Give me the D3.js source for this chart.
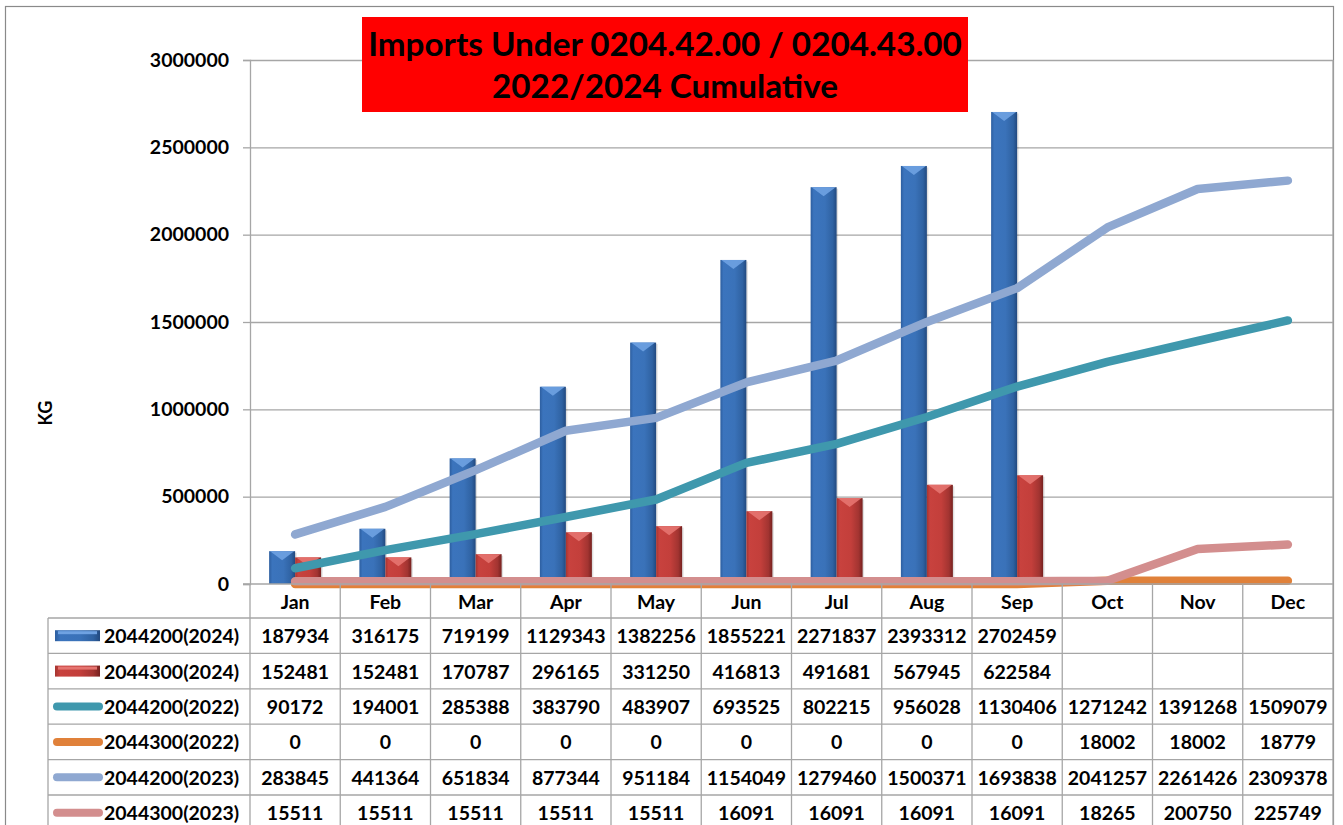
<!DOCTYPE html>
<html><head><meta charset="utf-8">
<script src="https://cdn.jsdelivr.net/npm/d3@7/dist/d3.min.js"></script>
<style>
body{margin:0;background:#fff}
svg{display:block}
text{font-family:Lato,"Open Sans",sans-serif;font-weight:700;fill:#000}
</style></head><body>
<script>
// ---------- data ----------
const months = ["Jan","Feb","Mar","Apr","May","Jun","Jul","Aug","Sep","Oct","Nov","Dec"];
const seriesNames = ["2044200(2024)","2044300(2024)","2044200(2022)","2044300(2022)","2044200(2023)","2044300(2023)"];
const s2044200_2024 = [187934,316175,719199,1129343,1382256,1855221,2271837,2393312,2702459,null,null,null];
const s2044300_2024 = [152481,152481,170787,296165,331250,416813,491681,567945,622584,null,null,null];
const s2044200_2022 = [90172,194001,285388,383790,483907,693525,802215,956028,1130406,1271242,1391268,1509079];
const s2044300_2022 = [0,0,0,0,0,0,0,0,0,18002,18002,18779];
const s2044200_2023 = [283845,441364,651834,877344,951184,1154049,1279460,1500371,1693838,2041257,2261426,2309378];
const s2044300_2023 = [15511,15511,15511,15511,15511,16091,16091,16091,16091,18265,200750,225749];
const yTicks = [0,500000,1000000,1500000,2000000,2500000,3000000];
const titleLines = ["Imports Under 0204.42.00 / 0204.43.00","2022/2024 Cumulative"];
const yAxisTitle = "KG";

const barSeries = [
  {name:seriesNames[0], values:s2044200_2024, grad:"gBlue", bevel:"#6fa2e2"},
  {name:seriesNames[1], values:s2044300_2024, grad:"gRed", bevel:"#e57470"}
];
const lineSeries = [
  {name:seriesNames[2], values:s2044200_2022, color:"#3f98ad"},
  {name:seriesNames[3], values:s2044300_2022, color:"#e0813a"},
  {name:seriesNames[4], values:s2044200_2023, color:"#8fa8d1"},
  {name:seriesNames[5], values:s2044300_2023, color:"#d38e8e"}
];
const tableRows = [
  {name:seriesNames[0], values:s2044200_2024, type:"bar", grad:"gBlue"},
  {name:seriesNames[1], values:s2044300_2024, type:"bar", grad:"gRed"},
  {name:seriesNames[2], values:s2044200_2022, type:"line", color:lineSeries[0].color},
  {name:seriesNames[3], values:s2044300_2022, type:"line", color:lineSeries[1].color},
  {name:seriesNames[4], values:s2044200_2023, type:"line", color:lineSeries[2].color},
  {name:seriesNames[5], values:s2044300_2023, type:"line", color:lineSeries[3].color}
];

// ---------- layout ----------
const W = 1343, H = 825;
const plotL = 250, plotR = 1333, plotT = 60, plotB = 584;
const headerH = 34, rowH = 35.4, tableL = 48;
const gridColor = "#a6a6a6";
const fsTable = "19.5px";

const svg = d3.select("body").append("svg").attr("width", W).attr("height", H);
const defs = svg.append("defs");
function hgrad(id, stops){
  const g = defs.append("linearGradient").attr("id", id).attr("x1","0%").attr("x2","100%").attr("y1","0%").attr("y2","0%");
  stops.forEach(s => g.append("stop").attr("offset", s[0]).attr("stop-color", s[1]));
}
hgrad("gBlue", [["0%","#2d5e9f"],["12%","#3b74bd"],["55%","#3a72b9"],["85%","#2f62a2"],["100%","#22497f"]]);
hgrad("gRed",  [["0%","#a53430"],["12%","#c8423e"],["55%","#c33f3b"],["85%","#a23431"],["100%","#76211f"]]);

// outer border
svg.append("rect").attr("x",5.5).attr("y",6.5).attr("width",1328).attr("height",850)
  .attr("fill","none").attr("stroke","#8a8a8a").attr("stroke-width",1.2);

const x = d3.scaleBand().domain(months).range([plotL, plotR]);
const y = d3.scaleLinear().domain([0, 3000000]).range([plotB, plotT]);
const bw = 26;

// gridlines
svg.append("g").attr("transform",`translate(${plotL},0)`)
  .call(d3.axisLeft(y).tickValues(yTicks.filter(t=>t>0)).tickSize(-(plotR-plotL)).tickFormat(""))
  .call(g => { g.select(".domain").remove(); g.selectAll("line").attr("stroke", gridColor).attr("stroke-width",1.3); });

// y axis with labels
svg.append("g").attr("transform",`translate(${plotL},0)`)
  .call(d3.axisLeft(y).tickValues(yTicks).tickSize(7).tickPadding(14).tickFormat(d3.format("d")))
  .call(g => {
    g.select(".domain").attr("stroke", gridColor).attr("stroke-width",1.3);
    g.selectAll("line").attr("stroke", gridColor).attr("stroke-width",1.3);
    g.selectAll("text").style("font-size","19.5px").style("font-family","Lato, sans-serif").style("font-weight","700").attr("fill","#000");
  });

// y axis title
svg.append("text").attr("transform","translate(52,413) rotate(-90)").attr("text-anchor","middle")
  .style("font-size","18px").text(yAxisTitle);

// bars
barSeries.forEach((s, si) => {
  const g = svg.append("g");
  months.forEach((m, i) => {
    const v = s.values[i];
    if (v == null) return;
    const cx = x(m) + x.bandwidth()/2;
    const x0 = si === 0 ? cx - bw : cx;
    const yt = y(v), h = y(0) - yt;
    g.append("rect").attr("x", x0 + 1.5).attr("y", yt + 1.5).attr("width", bw).attr("height", h - 1.5)
      .attr("fill", "#000").attr("opacity", 0.12);
    g.append("rect").attr("x", x0).attr("y", yt).attr("width", bw).attr("height", h)
      .attr("fill", `url(#${s.grad})`);
    const bev = Math.min(9, h);
    g.append("path").attr("d", `M${x0+1},${yt}L${x0+bw-1},${yt}L${x0+bw/2},${yt+bev}Z`)
      .attr("fill", s.bevel).attr("opacity",0.9);
  });
});

// lines
const lineGen = d3.line().x((d,i) => x(months[i]) + x.bandwidth()/2).y(d => y(d));
lineSeries.forEach(s => {
  svg.append("path").datum(s.values).attr("d", lineGen)
    .attr("fill","none").attr("stroke", s.color).attr("stroke-width", 8.5)
    .attr("stroke-linecap","round").attr("stroke-linejoin","round");
});

// data table
const tg = svg.append("g");
const rowTop = i => plotB + headerH + i*rowH;
tg.append("line").attr("x1", plotL-7).attr("x2", plotR).attr("y1", plotB).attr("y2", plotB);
for (let i = 0; i <= tableRows.length; i++) {
  tg.append("line").attr("x1", tableL).attr("x2", plotR).attr("y1", rowTop(i)).attr("y2", rowTop(i));
}
months.forEach(m => tg.append("line").attr("x1", x(m)).attr("x2", x(m)).attr("y1", plotB).attr("y2", H));
tg.append("line").attr("x1", plotR).attr("x2", plotR).attr("y1", plotT).attr("y2", H);
tg.append("line").attr("x1", tableL).attr("x2", tableL).attr("y1", rowTop(0)).attr("y2", H);
tg.selectAll("line").attr("stroke", gridColor).attr("stroke-width", 1.3);

months.forEach(m => {
  tg.append("text").attr("x", x(m) + x.bandwidth()/2).attr("y", plotB + headerH/2)
    .attr("text-anchor","middle").attr("dominant-baseline","central").style("font-size",fsTable).text(m);
});
tableRows.forEach((r, ri) => {
  const cy = rowTop(ri) + rowH/2;
  if (r.type === "bar") {
    tg.append("rect").attr("x", 55).attr("y", cy - 5.5).attr("width", 45).attr("height", 11)
      .attr("fill", `url(#${r.grad})`);
    tg.append("rect").attr("x", 58).attr("y", cy - 4.5).attr("width", 39).attr("height", 3)
      .attr("fill", r.grad === "gBlue" ? "#6fa2e2" : "#e57470");
  } else {
    tg.append("line").attr("x1", 57).attr("x2", 99).attr("y1", cy).attr("y2", cy)
      .attr("stroke", r.color).attr("stroke-width", 8).attr("stroke-linecap","round");
  }
  tg.append("text").attr("x", 104).attr("y", cy).attr("dominant-baseline","central")
    .style("font-size",fsTable).text(r.name);
  months.forEach((m, i) => {
    const v = r.values[i];
    if (v == null) return;
    tg.append("text").attr("x", x(m) + x.bandwidth()/2).attr("y", cy)
      .attr("text-anchor","middle").attr("dominant-baseline","central").style("font-size",fsTable).text(v);
  });
});

// title box
svg.append("rect").attr("x", 362).attr("y", 17).attr("width", 606).attr("height", 95).attr("fill", "#ff0000");
const tt1 = svg.append("text").attr("x", 665).attr("y", 56).attr("text-anchor","middle").style("font-size","31px").text(titleLines[0]);
const tt2 = svg.append("text").attr("x", 665).attr("y", 98).attr("text-anchor","middle").style("font-size","31px").text(titleLines[1]);
const w1 = tt1.node().getComputedTextLength();
const fs = 31 * 594 / w1;
tt1.style("font-size", fs + "px");
tt2.style("font-size", fs + "px");
</script>
</body></html>
